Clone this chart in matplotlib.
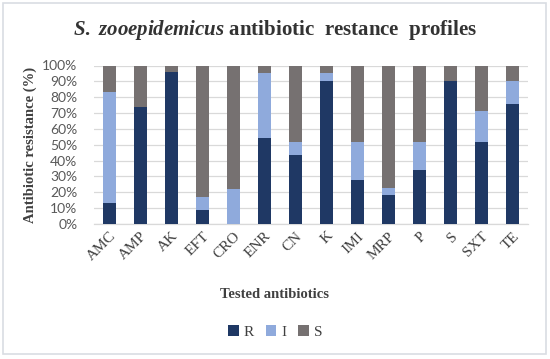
import matplotlib
matplotlib.use("Agg")
import matplotlib.pyplot as plt
from matplotlib.patches import Rectangle
import numpy as np

antibiotics = ["AMC", "AMP", "AK", "EFT", "CRO", "ENR", "CN", "K", "IMI", "MRP", "P", "S", "SXT", "TE"]
resistant = [13, 74, 96, 9, 0, 54, 43.5, 90.5, 28, 18, 34, 90, 52, 76]
intermediate = [70, 0, 0, 8, 22, 41.5, 8.5, 4.5, 24, 4.5, 17.5, 0, 19.5, 14.5]
susceptible = [100 - r - i for r, i in zip(resistant, intermediate)]

colors = {"R": "#1f3864", "I": "#8faadc", "S": "#767171"}
serif = ["Liberation Serif", "DejaVu Serif"]

plt.rcParams["mathtext.fontset"] = "custom"
plt.rcParams["mathtext.it"] = "Liberation Serif:italic:bold"
plt.rcParams["mathtext.rm"] = "Liberation Serif:bold"

fig = plt.figure(figsize=(5.5, 3.59), dpi=100)
ax = fig.add_axes([94 / 550, 1 - 224 / 359, 434 / 550, 158.5 / 359])

x = np.arange(len(antibiotics))
r = np.array(resistant)
i = np.array(intermediate)
s = np.array(susceptible)
w = 0.45
ax.bar(x, r, w, color=colors["R"], label="R", zorder=3)
ax.bar(x, i, w, bottom=r, color=colors["I"], label="I", zorder=3)
ax.bar(x, s, w, bottom=r + i, color=colors["S"], label="S", zorder=3)

ax.set_xlim(-0.5, len(antibiotics) - 0.5)
ax.set_ylim(0, 100)
ax.set_yticks(np.arange(0, 101, 10))
ax.set_yticklabels([f"{v}%" for v in range(0, 101, 10)], family="Lato",
                   fontsize=10, color="#595959")
ax.yaxis.grid(True, color="#d9d9d9", linewidth=0.9, zorder=0)
ax.tick_params(axis="y", length=0, pad=12)
ax.tick_params(axis="x", length=0, pad=4)
ax.set_xticks(x)
ax.set_xticklabels(antibiotics, rotation=45, ha="right", va="top",
                   rotation_mode="anchor", family=serif, fontsize=11, color="#404040")
for side in ["top", "right", "left"]:
    ax.spines[side].set_visible(False)
ax.spines["bottom"].set_color("#d9d9d9")
ax.spines["bottom"].set_linewidth(0.9)

ax.set_ylabel("Antibiotic resistance (%)", family=serif, fontsize=10.5,
              fontweight="bold", color="#404040", labelpad=4)
fig.text(0.5, 1 - 295 / 359, "Tested antibiotics", ha="center", va="center",
         family=serif, fontsize=10.5, fontweight="bold", color="#404040")

fig.text(0.5, 1 - 30 / 359,
         r"$\mathit{S.\ zooepidemicus}$" + " antibiotic  restance  profiles",
         ha="center", va="center", family=serif, fontsize=15,
         fontweight="bold", color="#333333")

leg = fig.legend(loc="center", bbox_to_anchor=(0.5, 1 - 332 / 359), ncol=3,
                 frameon=False, prop={"family": serif, "size": 11},
                 handlelength=0.7, handleheight=0.7, handletextpad=0.3,
                 columnspacing=0.8)
for t in leg.get_texts():
    t.set_color("#404040")

fig.patches.append(Rectangle((3 / 550, 5 / 359), 543 / 550, 351 / 359,
                             transform=fig.transFigure, fill=False,
                             edgecolor="#d9dde3", linewidth=1.2))

fig.savefig("out.png", dpi=100)
